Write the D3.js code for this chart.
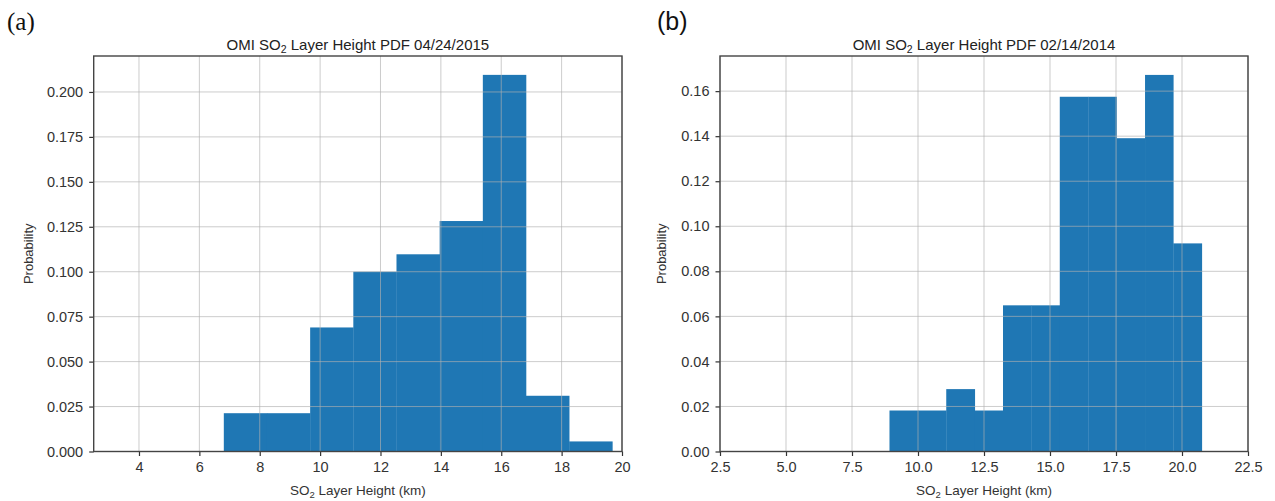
<!DOCTYPE html>
<html>
<head>
<meta charset="utf-8">
<script src="https://cdn.jsdelivr.net/npm/d3@7"></script>
<style>
  html, body { margin: 0; padding: 0; background: #fff; }
  svg { display: block; }
  text { font-family: "Liberation Sans", Arial, Helvetica, sans-serif; fill: #222; }
</style>
</head>
<body>
<svg id="chart" width="1275" height="501"></svg>
<script>
// ---- data ----
const edgesA = [6.81, 8.24, 9.67, 11.10, 12.53, 13.96, 15.39, 16.82, 18.25, 19.68];
const densA  = [0.0213, 0.0213, 0.0690, 0.1000, 0.1097, 0.1282, 0.2095, 0.0310, 0.0056];
const edgesB = [8.92, 10.00, 11.07, 12.15, 13.22, 14.30, 15.37, 16.45, 17.52, 18.60, 19.67, 20.75];
const densB  = [0.0182, 0.0182, 0.0277, 0.0182, 0.0649, 0.0649, 0.1575, 0.1575, 0.1391, 0.1672, 0.0924];
const xTicksA = [4, 6, 8, 10, 12, 14, 16, 18, 20];
const yTicksA = [0, 0.025, 0.05, 0.075, 0.1, 0.125, 0.15, 0.175, 0.2];
const xTicksB = [2.5, 5.0, 7.5, 10.0, 12.5, 15.0, 17.5, 20.0, 22.5];
const yTicksB = [0, 0.02, 0.04, 0.06, 0.08, 0.10, 0.12, 0.14, 0.16];
const datesAB = ["04/24/2015", "02/14/2014"];
const panelLabels = ["(a)", "(b)"];
const xLabelMain = "SO", xLabelSub = "2", xLabelRest = " Layer Height (km)";
const yLabel = "Probability";

const svg = d3.select("#chart");
const barColor = "#1f77b4";

const panels = [
  { edges: edgesA, dens: densA, xDom: [2.5, 20], yDom: [0, 0.22], xTicks: xTicksA, yTicks: yTicksA,
    xFmt: d3.format("d"), yFmt: d3.format(".3f"), x0: 93.7, x1: 622, date: datesAB[0],
    tag: panelLabels[0], tagX: 7, tagFont: "'Liberation Serif', 'Times New Roman', serif", ylabX: 30 },
  { edges: edgesB, dens: densB, xDom: [2.5, 22.5], yDom: [0, 0.1756], xTicks: xTicksB, yTicks: yTicksB,
    xFmt: d3.format(".1f"), yFmt: d3.format(".2f"), x0: 720, x1: 1248, date: datesAB[1],
    tag: panelLabels[1], tagX: 657, tagFont: "'Liberation Sans', Arial, sans-serif", ylabX: 663 }
];
const yTop = 56, yBot = 451.5;

panels.forEach(p => {
  const x = d3.scaleLinear().domain(p.xDom).range([p.x0, p.x1]);
  const y = d3.scaleLinear().domain(p.yDom).range([yBot, yTop]);
  const g = svg.append("g");

  // bars
  const bins = p.dens.map((v, i) => ({ a: p.edges[i], b: p.edges[i + 1], v }));
  g.append("g").selectAll("rect").data(bins).join("rect")
    .attr("x", d => x(d.a))
    .attr("width", d => x(d.b) - x(d.a) + 0.3)
    .attr("y", d => y(d.v))
    .attr("height", d => y(0) - y(d.v))
    .attr("fill", barColor);

  // grid (drawn over bars)
  const grid = g.append("g").attr("stroke", "#b0b0b0").attr("stroke-opacity", 0.65).attr("stroke-width", 1);
  grid.selectAll(".gx").data(p.xTicks).join("line")
    .attr("x1", d => x(d)).attr("x2", d => x(d)).attr("y1", yTop).attr("y2", yBot);
  grid.selectAll(".gy").data(p.yTicks).join("line")
    .attr("y1", d => y(d)).attr("y2", d => y(d)).attr("x1", p.x0).attr("x2", p.x1);

  // axes
  const xAxis = d3.axisBottom(x).tickValues(p.xTicks).tickFormat(p.xFmt).tickSize(4.5).tickPadding(6);
  const yAxis = d3.axisLeft(y).tickValues(p.yTicks).tickFormat(p.yFmt).tickSize(4.5).tickPadding(6);
  const gx = g.append("g").attr("transform", `translate(0,${yBot})`).call(xAxis);
  const gy = g.append("g").attr("transform", `translate(${p.x0},0)`).call(yAxis);
  [gx, gy].forEach(a => {
    a.select(".domain").remove();
    a.selectAll(".tick line").attr("stroke", "#333").attr("stroke-width", 1.2);
    a.selectAll(".tick text").style("font-size", "14.5px").style("fill", "#333");
  });

  // frame
  g.append("rect").attr("x", p.x0).attr("y", yTop).attr("width", p.x1 - p.x0).attr("height", yBot - yTop)
    .attr("fill", "none").attr("stroke", "#444").attr("stroke-width", 1.4);

  // title
  const cx = (p.x0 + p.x1) / 2;
  const t = g.append("text").attr("x", cx).attr("y", 49.5).attr("text-anchor", "middle")
    .style("font-size", "15px");
  t.append("tspan").text("OMI SO");
  t.append("tspan").text("2").style("font-size", "10.5px").attr("dy", 3.5);
  t.append("tspan").text(" Layer Height PDF " + p.date).attr("dy", -3.5);

  // x label
  const xl = g.append("text").attr("x", cx).attr("y", 495).attr("text-anchor", "middle")
    .style("font-size", "13.5px").style("fill", "#333");
  xl.append("tspan").text(xLabelMain);
  xl.append("tspan").text(xLabelSub).style("font-size", "9.5px").attr("dy", 3);
  xl.append("tspan").text(xLabelRest).attr("dy", -3);

  // y label
  g.append("text").attr("transform", `translate(${p.ylabX},${(yTop + yBot) / 2}) rotate(-90)`)
    .attr("text-anchor", "middle").attr("dominant-baseline", "middle")
    .style("font-size", "13px").style("fill", "#333").text(yLabel);

  // panel tag
  g.append("text").attr("x", p.tagX).attr("y", 30)
    .style("font-size", "25px").style("font-family", p.tagFont).style("fill", "#111").text(p.tag);
});
</script>
</body>
</html>
